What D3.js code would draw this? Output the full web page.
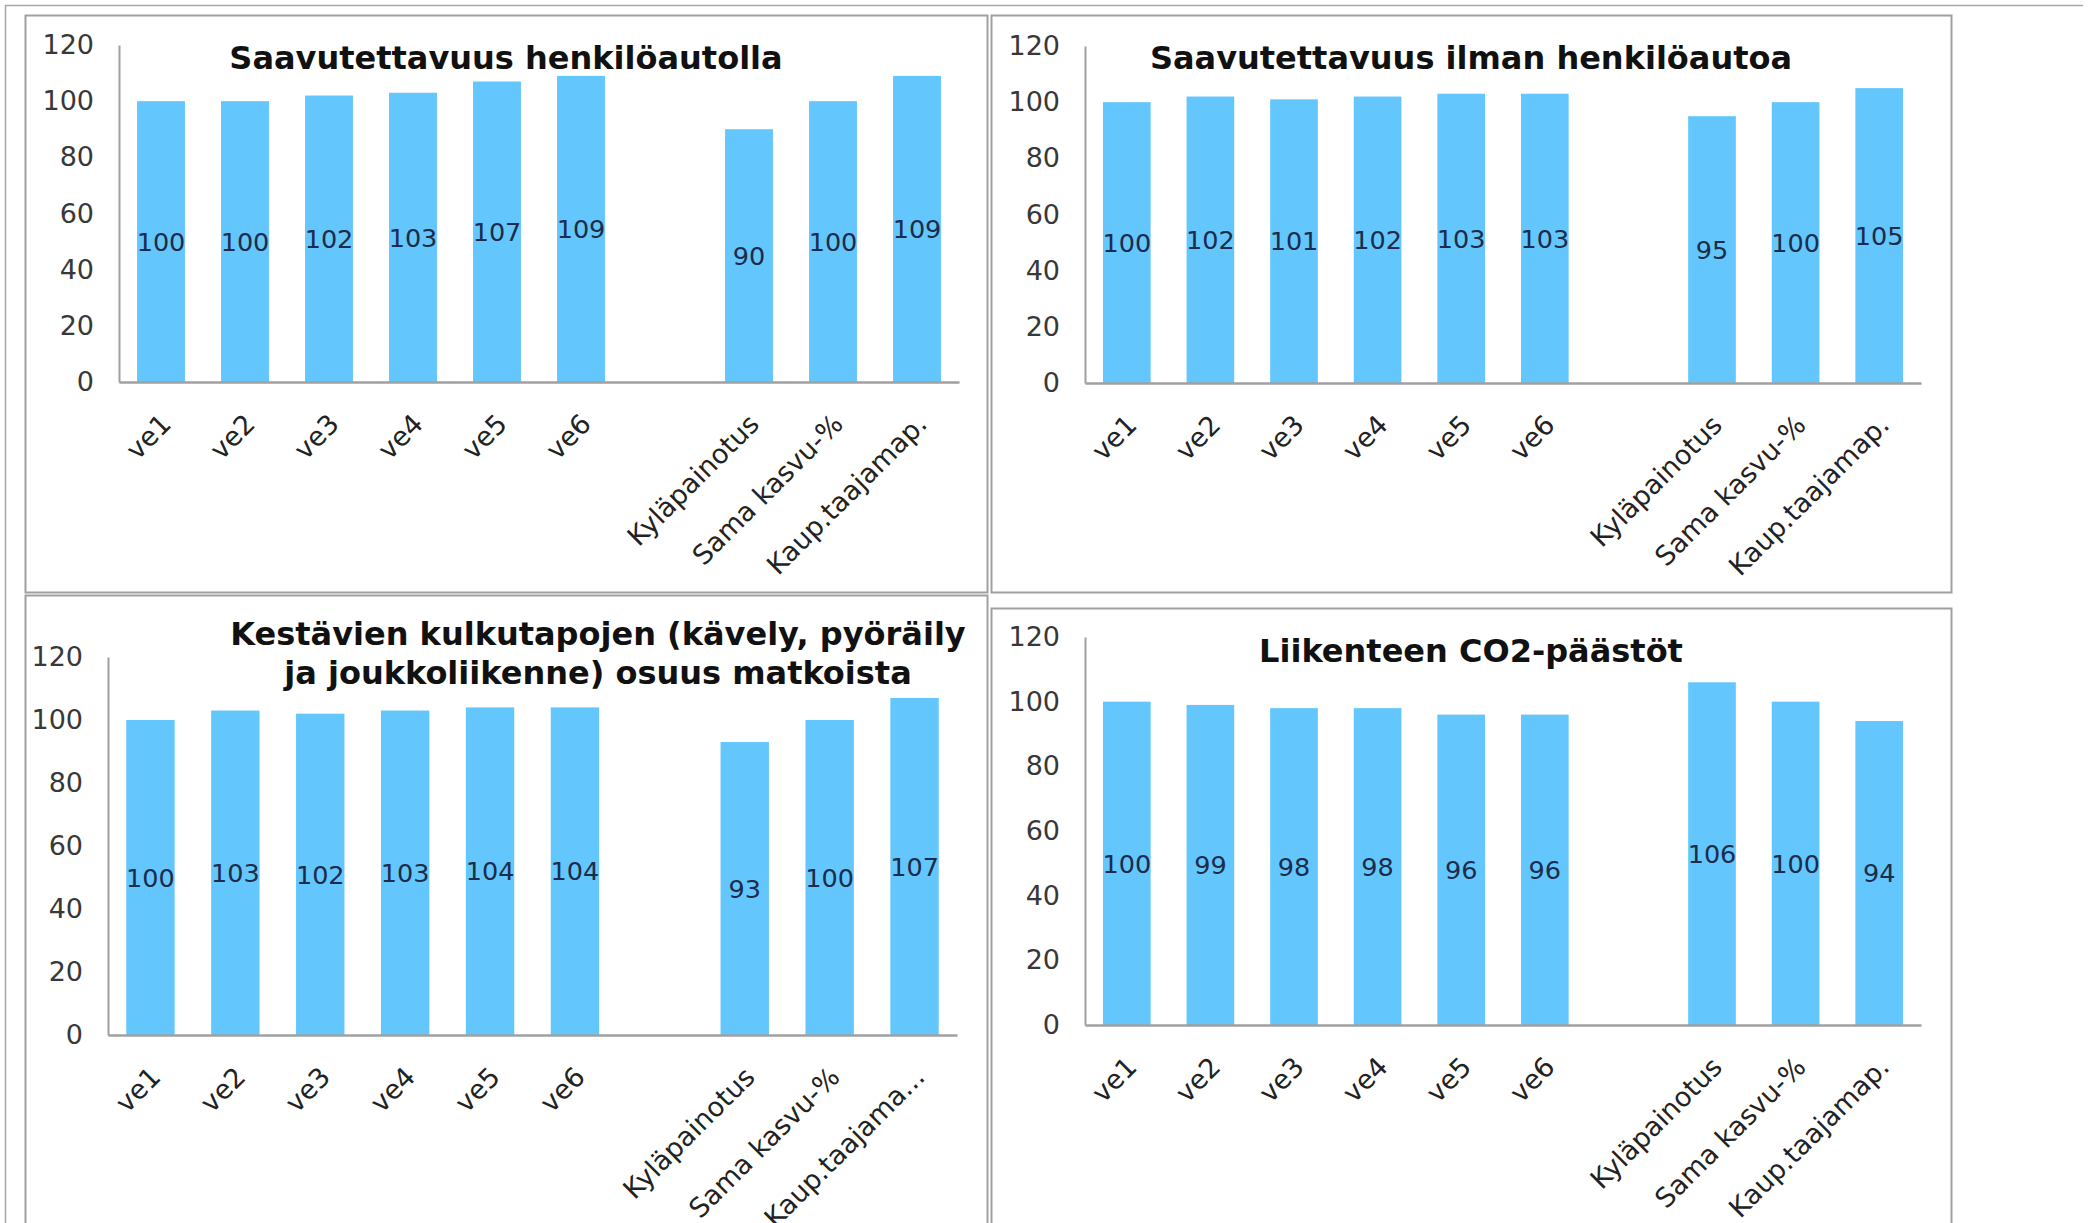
<!DOCTYPE html>
<html><head><meta charset="utf-8">
<script src="https://cdn.jsdelivr.net/npm/d3@7"></script>
<style>body{margin:0;background:#fff;overflow:hidden} svg{display:block}</style>
</head><body>
<svg id="c" width="2089" height="1223"></svg>
<script>
// ---- data ----
const categories = ["ve1","ve2","ve3","ve4","ve5","ve6","","Kyläpainotus","Sama kasvu-%","Kaup.taajamap."];
const categoriesP3 = ["ve1","ve2","ve3","ve4","ve5","ve6","","Kyläpainotus","Sama kasvu-%","Kaup.taajama..."];
const valuesCar = [100,100,102,103,107,109,null,90,100,109];
const valuesNoCar = [100,102,101,102,103,103,null,95,100,105];
const valuesSustainable = [100,103,102,103,104,104,null,93,100,107];
const valuesCO2 = [100,99,98,98,96,96,null,106,100,94];
const yTicks = [0,20,40,60,80,100,120];
const titleCar = ["Saavutettavuus henkilöautolla"];
const titleNoCar = ["Saavutettavuus ilman henkilöautoa"];
const titleSustainable = ["Kestävien kulkutapojen (kävely, pyöräily","ja joukkoliikenne) osuus matkoista"];
const titleCO2 = ["Liikenteen CO2-päästöt"];

// ---- styles ----
const BAR = "#63c6fc";
const FONT = "'DejaVu Sans', Verdana, sans-serif";

const svg = d3.select("#c");

// outer table lines (top and left)
svg.append("path").attr("d","M5.5,1223 V5.5 H2083")
  .attr("fill","none").attr("stroke","#a8a8a8").attr("stroke-width",1.5);

const panels = [
  {cats:categories, vals:valuesCar, title:titleCar, box:[25,15,987,592], xr:[119,959], y0:382, y1:45, tx:506, ty:57, lh:39},
  {cats:categories, vals:valuesNoCar, title:titleNoCar, box:[991,15,1951,592], xr:[1085,1921], y0:383, y1:46, tx:1471, ty:57, lh:39},
  {cats:categoriesP3, vals:valuesSustainable, title:titleSustainable, box:[25,595,987,1240], xr:[108,957], y0:1035, y1:657, tx:598, ty:633, lh:39},
  {cats:categories, vals:valuesCO2, title:titleCO2, box:[991,608,1951,1240], xr:[1085,1921], y0:1025, y1:637, tx:1471, ty:650, lh:39}
];

panels.forEach(p => {
  const g = svg.append("g");
  g.append("rect").attr("x",p.box[0]+0.5).attr("y",p.box[1]+0.5)
    .attr("width",p.box[2]-p.box[0]).attr("height",p.box[3]-p.box[1])
    .attr("fill","#fff").attr("stroke","#a0a0a0").attr("stroke-width",2);

  const x = d3.scaleBand().domain(p.cats).range(p.xr).paddingInner(0.43).paddingOuter(0.215);
  const y = d3.scaleLinear().domain([0,120]).range([p.y0,p.y1]);

  const data = p.cats.map((c,i)=>({c, v:p.vals[i]})).filter(d=>d.v!=null);

  g.selectAll("rect.bar").data(data).join("rect").attr("class","bar")
    .attr("x",d=>x(d.c)).attr("width",x.bandwidth())
    .attr("y",d=>y(d.v)).attr("height",d=>y(0)-y(d.v))
    .attr("fill",BAR);

  // y axis
  const ya = g.append("g").attr("transform",`translate(${p.xr[0]},0)`)
    .call(d3.axisLeft(y).tickValues(yTicks).tickSize(0).tickPadding(25));
  ya.select(".domain").attr("stroke","#a0a0a0").attr("stroke-width",2);
  ya.selectAll("text").attr("font-family",FONT).attr("font-size",27).attr("fill","#383838");

  // x axis
  const xa = g.append("g").attr("transform",`translate(0,${p.y0})`)
    .call(d3.axisBottom(x).tickSize(0));
  xa.select(".domain").attr("stroke","#a0a0a0").attr("stroke-width",2.5);
  xa.selectAll("text")
    .attr("font-family",FONT).attr("font-size",27).attr("fill","#222")
    .attr("text-anchor","end").attr("x",0).attr("y",0).attr("dy","0.35em")
    .attr("transform","translate(5,37) rotate(-45)");

  // value labels
  g.selectAll("text.val").data(data).join("text").attr("class","val")
    .attr("x",d=>x(d.c)+x.bandwidth()/2)
    .attr("y",d=>(y(d.v)+y(0))/2)
    .attr("dy","0.36em").attr("text-anchor","middle")
    .attr("font-family",FONT).attr("font-size",25.5).attr("fill","#1c2c4a")
    .text(d=>d.v);

  // title
  g.selectAll("text.title").data(p.title).join("text").attr("class","title")
    .attr("x",p.tx).attr("y",(d,i)=>p.ty+i*p.lh).attr("dy","0.36em")
    .attr("text-anchor","middle").attr("font-family",FONT).attr("font-weight","bold")
    .attr("font-size",32).attr("fill","#111").text(d=>d);
});
</script>
</body></html>
